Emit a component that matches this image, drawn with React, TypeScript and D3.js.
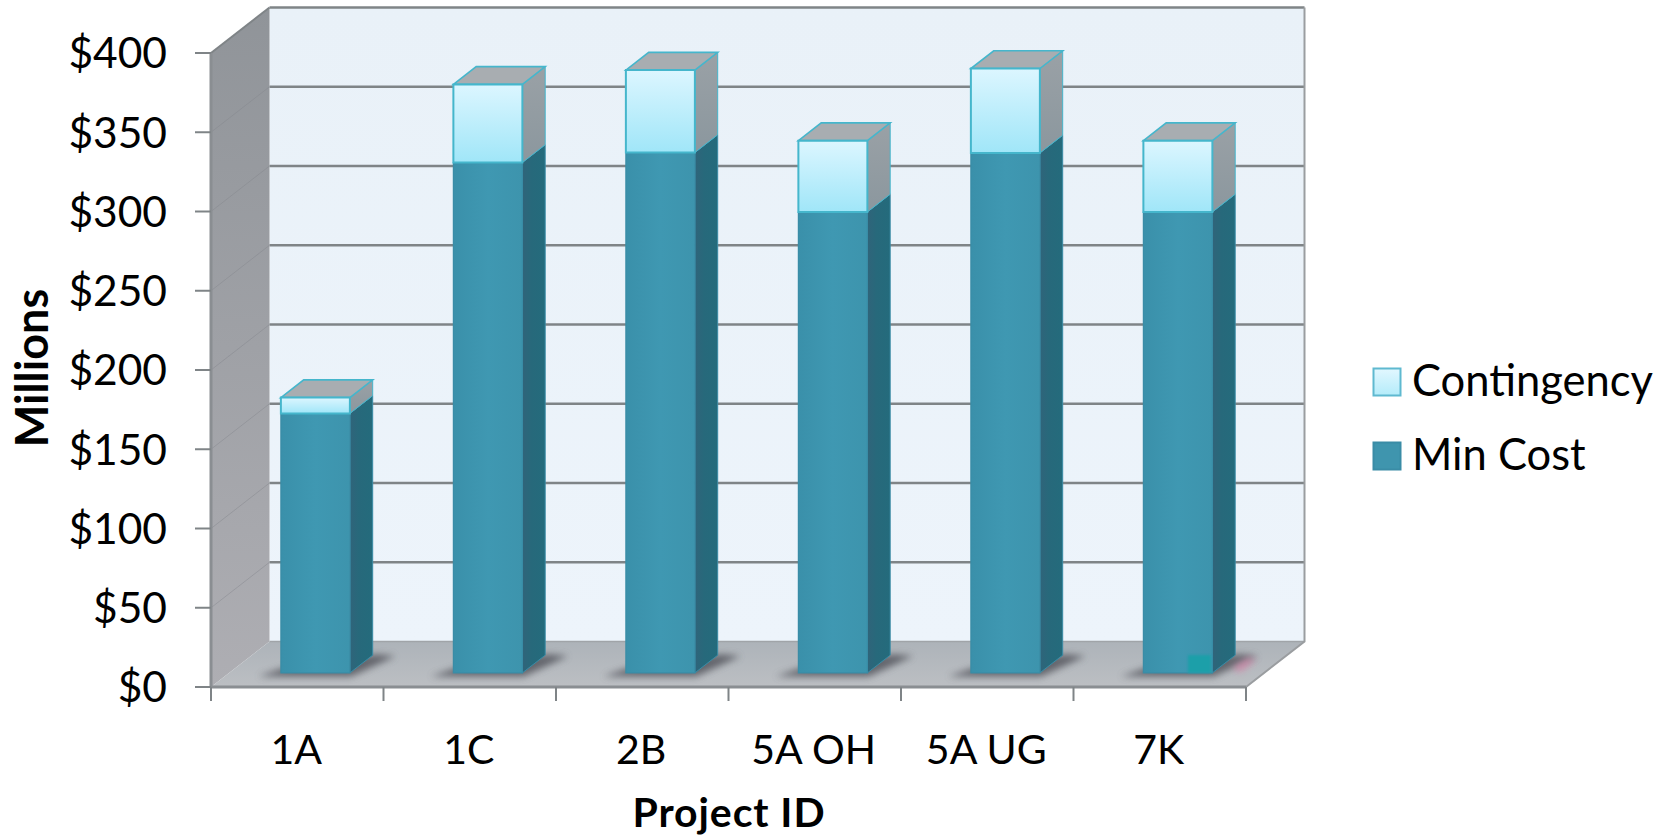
import React from "react";
import * as d3 from "d3";

// Project cost figures, in millions of dollars
const categories = ["1A", "1C", "2B", "5A OH", "5A UG", "7K"];
const minCost = [163.7, 322, 328.3, 290.8, 328, 290.8];
const contingency = [10, 49.3, 52, 45, 53.3, 45];
const yTicks = [0, 50, 100, 150, 200, 250, 300, 350, 400];
const legendItems = ["Contingency", "Min Cost"];

const WIDTH = 1673;
const HEIGHT = 836;
const FONT = "Lato, Carlito, Calibri, sans-serif";

// Oblique projection: depth 0 is the front edge of the floor, depth 1 the back wall
const DEPTH_X = 58.5;
const DEPTH_Y = -45.5;
const BAR_FRONT = 0.31;
const BAR_BACK = 0.7;
const BAR_SHARE = 0.4;

const x = d3.scaleBand<string>().domain(categories).range([211, 1246]);
const y = d3.scaleLinear().domain([0, 400]).range([687, 53]);

type Pt = [number, number];
const project = (px: number, value: number, depth: number): Pt => [
  px + DEPTH_X * depth,
  y(value) + DEPTH_Y * depth,
];
const poly = (pts: Pt[]) => (d3.line()(pts) as string) + "Z";

const GRID = "#7f8487";
const FMT = (v: number) => `$${v}`;

function Segment({ px, w, from, to, front, side, top, stroke }: {
  px: number; w: number; from: number; to: number;
  front: string; side: string; top?: string; stroke: string;
}) {
  const fbl = project(px, from, BAR_FRONT);
  const fbr = project(px + w, from, BAR_FRONT);
  const ftl = project(px, to, BAR_FRONT);
  const ftr = project(px + w, to, BAR_FRONT);
  const bbr = project(px + w, from, BAR_BACK);
  const btr = project(px + w, to, BAR_BACK);
  const btl = project(px, to, BAR_BACK);
  return (
    <g>
      <path d={poly([fbr, ftr, btr, bbr])} fill={side} stroke={stroke} strokeWidth={1} />
      {top && <path d={poly([ftl, ftr, btr, btl])} fill={top} stroke={stroke} strokeWidth={1.6} />}
      <path d={poly([fbl, ftl, ftr, fbr])} fill={front} stroke={stroke} strokeWidth={top ? 2 : 1.2} />
    </g>
  );
}

export default function App() {
  const step = x.step();
  const barW = step * BAR_SHARE;
  const barX = (c: string) => (x(c) as number) + (step - barW) / 2;
  const [x0, x1] = x.range();

  return (
    <svg
      width={WIDTH}
      height={HEIGHT}
      viewBox={`0 0 ${WIDTH} ${HEIGHT}`}
      style={{ position: "absolute", left: 0, top: 0, background: "#fff" }}
      fontFamily={FONT}
    >
      <defs>
        <linearGradient id="wallBack" x1="0" y1="0" x2="0" y2="1">
          <stop offset="0" stopColor="#e9f1f8" />
          <stop offset="1" stopColor="#edf4fb" />
        </linearGradient>
        <linearGradient id="wallLeft" x1="0" y1="0" x2="0" y2="1">
          <stop offset="0" stopColor="#909499" />
          <stop offset="1" stopColor="#aeaeb3" />
        </linearGradient>
        <linearGradient id="floor" x1="0" y1="0" x2="0" y2="1">
          <stop offset="0" stopColor="#adb3b9" />
          <stop offset="1" stopColor="#bcbfc3" />
        </linearGradient>
        <linearGradient id="contFront" x1="0" y1="0" x2="0" y2="1">
          <stop offset="0" stopColor="#dcf6ff" />
          <stop offset="1" stopColor="#a0e6f8" />
        </linearGradient>
        <linearGradient id="contSide" x1="0" y1="0" x2="0" y2="1">
          <stop offset="0" stopColor="#9aa1a6" />
          <stop offset="1" stopColor="#8b979e" />
        </linearGradient>
        <linearGradient id="minFront" x1="0" y1="0" x2="1" y2="0">
          <stop offset="0" stopColor="#3a90aa" />
          <stop offset="0.5" stopColor="#3f98b2" />
          <stop offset="1" stopColor="#3d94ad" />
        </linearGradient>
        <linearGradient id="minSide" x1="0" y1="0" x2="1" y2="0">
          <stop offset="0" stopColor="#30647a" />
          <stop offset="0.4" stopColor="#27697b" />
          <stop offset="1" stopColor="#246b7c" />
        </linearGradient>
        <linearGradient id="swatchLight" x1="0" y1="0" x2="0" y2="1">
          <stop offset="0" stopColor="#e2f7ff" />
          <stop offset="1" stopColor="#b4ecfa" />
        </linearGradient>
        <filter id="soft" x="-30%" y="-60%" width="160%" height="220%">
          <feGaussianBlur stdDeviation="3.5" />
        </filter>
        <filter id="softer" x="-30%" y="-30%" width="160%" height="160%">
          <feGaussianBlur stdDeviation="1" />
        </filter>
      </defs>

      {/* Chart box: back wall, side wall and floor */}
      <path
        d={poly([project(x0, 0, 1), project(x0, 400, 1), project(x1, 400, 1), project(x1, 0, 1)])}
        fill="url(#wallBack)"
      />
      <path
        d={poly([project(x0, 0, 0), project(x0, 400, 0), project(x0, 400, 1), project(x0, 0, 1)])}
        fill="url(#wallLeft)"
      />
      <path
        d={poly([project(x0, 0, 0), project(x0, 0, 1), project(x1, 0, 1), project(x1, 0, 0)])}
        fill="url(#floor)"
      />

      {/* Gridlines across both walls */}
      {yTicks.filter((t) => t > 0).map((t) => (
        <g key={t} fill="none">
          <line
            x1={project(x0, t, 0)[0]} y1={project(x0, t, 0)[1]}
            x2={project(x0, t, 1)[0]} y2={project(x0, t, 1)[1]}
            stroke={t === 400 ? GRID : "#83868b"} strokeWidth={t === 400 ? 2 : 1}
            opacity={t === 400 ? 1 : 0.45}
          />
          <line
            x1={project(x0, t, 1)[0]} y1={project(x0, t, 1)[1]}
            x2={project(x1, t, 1)[0]} y2={project(x1, t, 1)[1]}
            stroke={GRID} strokeWidth={2.6}
          />
        </g>
      ))}

      {/* Box edges */}
      <g fill="none" stroke="#9a9da0" strokeWidth={2}>
        <path d={d3.line()([project(x0, 0, 0), project(x0, 400, 0)]) as string} stroke="#8a8e92" strokeWidth={3} />
        <path d={d3.line()([project(x0, 0, 1), project(x1, 0, 1)]) as string} stroke="#a0a4a8" strokeWidth={1.5} />
        <path d={d3.line()([project(x1, 0, 0), project(x1, 0, 1), project(x1, 400, 1)]) as string} strokeWidth={2} />
        <path d={d3.line()([project(x0, 0, 0), project(x1, 0, 0)]) as string} stroke="#8a8e92" strokeWidth={3} />
      </g>

      {/* Contact shadows cast on the floor */}
      {categories.map((c) => {
        const px = barX(c);
        return (
          <path
            key={c}
            filter="url(#soft)"
            fill="#5f6168"
            opacity={0.95}
            d={poly([
              project(px - 18, 0, BAR_FRONT - 0.08),
              project(px + barW + 6, 0, BAR_FRONT - 0.08),
              project(px + barW + 24, 0, BAR_BACK - 0.02),
              project(px + barW + 2, 0, BAR_BACK + 0.02),
              project(px - 4, 0, BAR_FRONT + 0.1),
            ])}
          />
        );
      })}

      {/* Discoloured patches around the last bar's foot */}
      <path
        d={poly([[1232, 668], [1248, 658], [1256, 660], [1240, 672]])}
        fill="#d77fa6"
        opacity={0.75}
        filter="url(#soft)"
      />

      {/* Stacked bars */}
      {categories.map((c, i) => {
        const px = barX(c);
        const total = minCost[i] + contingency[i];
        return (
          <g key={c}>
            <Segment
              px={px} w={barW} from={0} to={minCost[i]}
              front="url(#minFront)" side="url(#minSide)" stroke="#3a8ca6"
            />
            <Segment
              px={px} w={barW} from={minCost[i]} to={total}
              front="url(#contFront)" side="url(#contSide)" top="#a8adb1" stroke="#45b6cc"
            />
          </g>
        );
      })}
      <rect x={1188} y={655} width={23} height={18} fill="#1d9fa9" filter="url(#softer)" />

      {/* Value axis */}
      {yTicks.map((t) => (
        <g key={t}>
          <line x1={195} x2={x0} y1={y(t)} y2={y(t)} stroke={GRID} strokeWidth={2} />
          <text x={167} y={y(t)} dy="0.36em" textAnchor="end" fontSize={42.5} fill="#000">
            {FMT(t)}
          </text>
        </g>
      ))}

      {/* Category axis */}
      {[...categories.map((c) => x(c) as number), x1].map((tx) => (
        <line key={tx} x1={tx} x2={tx} y1={687} y2={701} stroke={GRID} strokeWidth={2} />
      ))}
      {categories.map((c) => (
        <text
          key={c}
          x={(x(c) as number) + step / 2 - 1}
          y={749}
          dy="0.36em"
          textAnchor="middle"
          fontSize={41}
          fill="#000"
        >
          {c}
        </text>
      ))}

      {/* Axis titles */}
      <text
        x={729}
        y={812}
        dy="0.36em"
        textAnchor="middle"
        fontSize={41}
        letterSpacing={0.9}
        fontWeight={700}
        fill="#000"
      >
        Project ID
      </text>
      <text
        transform="translate(32,368) rotate(-90)"
        dy="0.36em"
        textAnchor="middle"
        fontSize={45}
        fontWeight={700}
        fill="#000"
      >
        Millions
      </text>

      {/* Legend */}
      {legendItems.map((name, i) => (
        <g key={name} transform={`translate(0,${74 * i})`}>
          <rect
            x={1373.5} y={368.5} width={27} height={27}
            fill={i === 0 ? "url(#swatchLight)" : "#3f95ae"}
            stroke={i === 0 ? "#5fb9d0" : "#3a8ca6"}
            strokeWidth={2}
          />
          <text x={1412} y={380} dy="0.36em" fontSize={43.5} fill="#000">
            {name}
          </text>
        </g>
      ))}
    </svg>
  );
}
